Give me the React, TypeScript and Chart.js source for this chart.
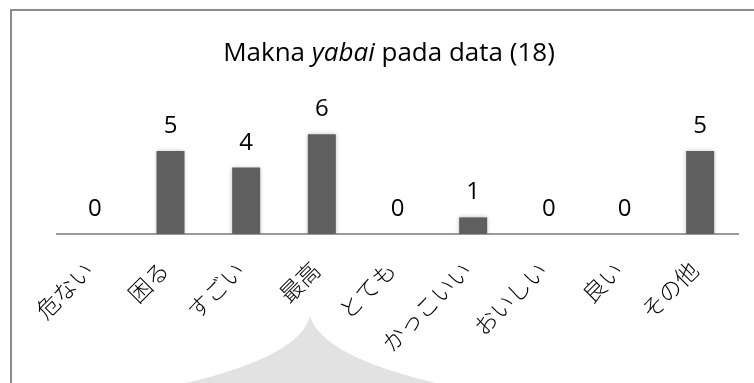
import React, { useEffect, useRef } from "react";
import { Chart, registerables } from "chart.js";

Chart.register(...registerables);

const categories = ["危ない", "困る", "すごい", "最高", "とても", "かっこいい", "おいしい", "良い", "その他"];
const counts = [0, 5, 4, 6, 0, 1, 0, 0, 5];
const titleParts = [
  { text: "Makna ", italic: false },
  { text: "yabai", italic: true },
  { text: " pada data (18)", italic: false },
];

const W = 754;
const H = 383;

const framePlugin = {
  id: "frameAndMark",
  beforeDraw(chart: any) {
    const ctx = chart.ctx;
    ctx.save();
    ctx.fillStyle = "#ffffff";
    ctx.fillRect(0, 0, W, H);
    // faint watermark roof shape
    ctx.fillStyle = "#e2e2e2";
    ctx.beginPath();
    ctx.moveTo(310, 316);
    ctx.quadraticCurveTo(300, 356, 186, 383);
    ctx.lineTo(436, 383);
    ctx.quadraticCurveTo(322, 356, 310, 316);
    ctx.closePath();
    ctx.fill();
    // frame
    ctx.strokeStyle = "#8c8c8c";
    ctx.lineWidth = 2;
    ctx.strokeRect(11, 10, 1000, 1000);
    ctx.restore();
  },
  beforeDatasetsDraw(chart: any) {
    const ctx = chart.ctx;
    ctx.save();
    ctx.shadowColor = "rgba(0,0,0,0.25)";
    ctx.shadowBlur = 4;
    ctx.shadowOffsetX = 0;
    ctx.shadowOffsetY = 0;
  },
  afterDatasetsDraw(chart: any) {
    chart.ctx.restore();
    const ctx = chart.ctx;
    ctx.save();
    // value labels
    const meta = chart.getDatasetMeta(0);
    ctx.font = "24px 'Open Sans'";
    ctx.fillStyle = "#000000";
    ctx.textAlign = "center";
    ctx.textBaseline = "alphabetic";
    meta.data.forEach((bar: any, i: number) => {
      ctx.fillText(String(counts[i]), bar.x, bar.y - 18);
    });
    // title with italic part
    const fonts = (it: boolean) => `${it ? "italic " : ""}26px 'Open Sans'`;
    let total = 0;
    titleParts.forEach((p) => {
      ctx.font = fonts(p.italic);
      total += ctx.measureText(p.text).width;
    });
    let x = 389 - total / 2;
    ctx.textAlign = "left";
    titleParts.forEach((p) => {
      ctx.font = fonts(p.italic);
      ctx.fillText(p.text, x, 61);
      x += ctx.measureText(p.text).width;
    });
    ctx.restore();
  },
};

export default function App() {
  const ref = useRef<HTMLCanvasElement>(null);
  useEffect(() => {
    if (!ref.current) return;
    const chart = new Chart(ref.current, {
      type: "bar",
      data: {
        labels: categories,
        datasets: [
          {
            data: counts,
            backgroundColor: "#5f5f5f",
            borderWidth: 0,
            barPercentage: 0.37,
            categoryPercentage: 1,
          },
        ],
      },
      options: {
        responsive: false,
        animation: false,
        devicePixelRatio: 1,
        layout: { padding: { left: 57, right: 16, top: 101, bottom: 0 } },
        plugins: {
          legend: { display: false },
          title: { display: false },
          tooltip: { enabled: false },
        },
        scales: {
          y: { display: false, min: 0, max: 8 },
          x: {
            grid: { display: false, drawTicks: false },
            border: { display: true, color: "#9a9a9a", width: 2 },
            ticks: {
              minRotation: 45,
              maxRotation: 45,
              padding: 22,
              labelOffset: -6,
              color: "#000000",
              font: { family: "'Noto Sans CJK JP'", size: 23, weight: "300" },
            },
            afterFit: (scale: any) => {
              scale.height = 149;
            },
          },
        },
      },
      plugins: [framePlugin],
    });
    return () => chart.destroy();
  }, []);
  return (
    <canvas
      ref={ref}
      width={W}
      height={H}
      style={{ position: "fixed", left: 0, top: 0, width: W, height: H }}
    />
  );
}
